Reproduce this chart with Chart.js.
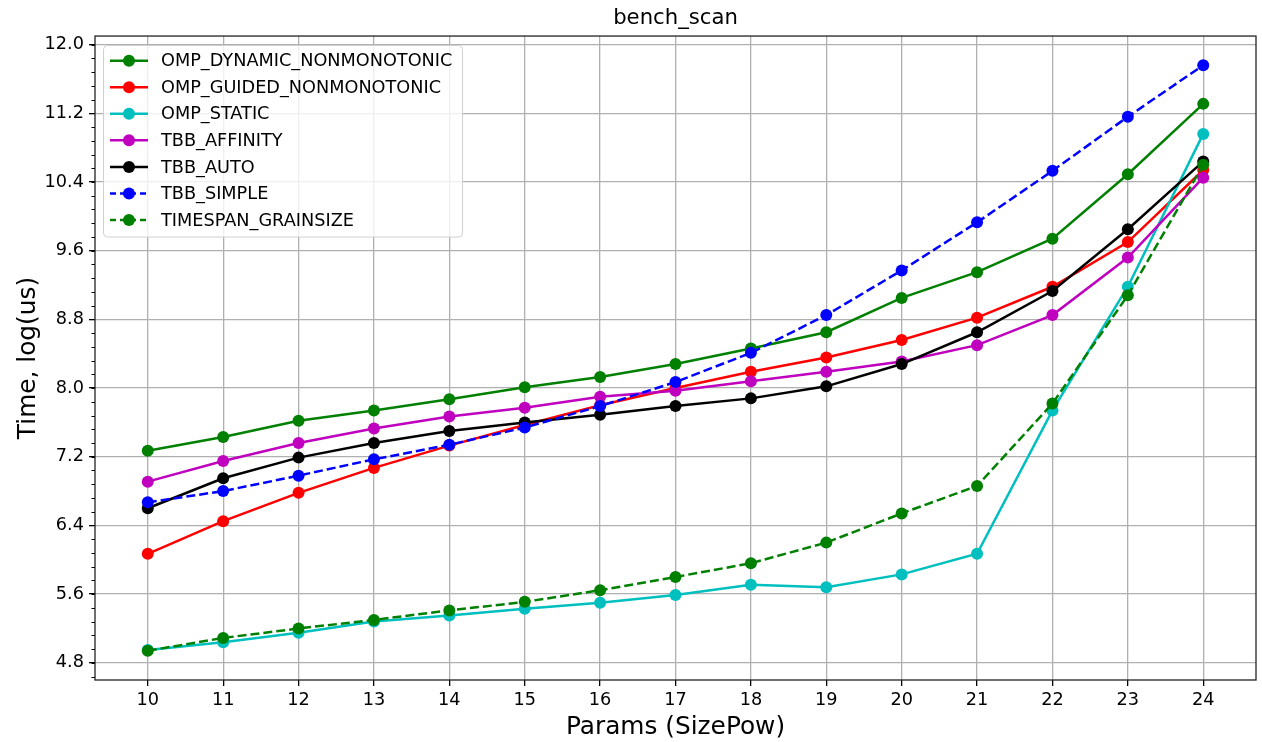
<!DOCTYPE html>
<html>
<head>
<meta charset="utf-8">
<script src="https://cdn.jsdelivr.net/npm/chart.js@4.4.0/dist/chart.umd.min.js"></script>
<style>
  html, body { margin: 0; padding: 0; background: #fff; }
  #wrap { width: 1262px; height: 742px; position: relative; }
</style>
</head>
<body>
<div id="wrap"><canvas id="chart"></canvas></div>
<script>
// values (log of microseconds)
var params = [10, 11, 12, 13, 14, 15, 16, 17, 18, 19, 20, 21, 22, 23, 24];
var ompDynamic  = [7.27, 7.43, 7.62, 7.74, 7.87, 8.01, 8.13, 8.28, 8.46, 8.65, 9.05, 9.35, 9.74, 10.49, 11.31];
var ompGuided   = [6.07, 6.45, 6.78, 7.07, 7.33, 7.57, 7.80, 8.00, 8.19, 8.355, 8.56, 8.82, 9.18, 9.70, 10.54];
var ompStatic   = [4.95, 5.04, 5.15, 5.28, 5.35, 5.43, 5.50, 5.59, 5.71, 5.68, 5.83, 6.07, 7.74, 9.18, 10.96];
var tbbAffinity = [6.91, 7.15, 7.36, 7.53, 7.67, 7.77, 7.90, 7.97, 8.08, 8.19, 8.31, 8.50, 8.85, 9.52, 10.45];
var tbbAuto     = [6.60, 6.95, 7.19, 7.36, 7.50, 7.60, 7.69, 7.79, 7.88, 8.02, 8.28, 8.65, 9.13, 9.85, 10.64];
var tbbSimple   = [6.67, 6.80, 6.98, 7.17, 7.34, 7.54, 7.79, 8.07, 8.41, 8.85, 9.37, 9.93, 10.53, 11.16, 11.76];
var timespan    = [4.94, 5.09, 5.20, 5.30, 5.41, 5.51, 5.645, 5.80, 5.96, 6.20, 6.54, 6.86, 7.82, 9.08, 10.60];

var seriesNames = ["OMP_DYNAMIC_NONMONOTONIC", "OMP_GUIDED_NONMONOTONIC", "OMP_STATIC",
  "TBB_AFFINITY", "TBB_AUTO", "TBB_SIMPLE", "TIMESPAN_GRAINSIZE"];
var seriesValues = [ompDynamic, ompGuided, ompStatic, tbbAffinity, tbbAuto, tbbSimple, timespan];
var seriesColors = ["#008000", "#ff0000", "#00bfbf", "#bf00bf", "#000000", "#0000ff", "#008000"];
var seriesDashed = [false, false, false, false, false, true, true];

var xTicks = [10, 11, 12, 13, 14, 15, 16, 17, 18, 19, 20, 21, 22, 23, 24];
var yTicks = [4.8, 5.6, 6.4, 7.2, 8.0, 8.8, 9.6, 10.4, 11.2, 12.0];

var FONT = "'DejaVu Sans', sans-serif";
var DASH = [9, 4];

var datasets = [];
for (var i = 0; i < seriesNames.length; i++) {
  var pts = [];
  for (var j = 0; j < params.length; j++) {
    pts.push({x: params[j], y: seriesValues[i][j]});
  }
  datasets.push({
    label: seriesNames[i],
    data: pts,
    borderColor: seriesColors[i],
    backgroundColor: seriesColors[i],
    pointBackgroundColor: seriesColors[i],
    pointBorderColor: seriesColors[i],
    borderWidth: 2.5,
    pointRadius: 6,
    pointBorderWidth: 0,
    pointHoverRadius: 6,
    borderDash: seriesDashed[i] ? DASH : [],
    tension: 0,
    fill: false,
    order: seriesNames.length - i
  });
}

// frame, minor y ticks and the boxed legend inside the plot
var framePlugin = {
  id: 'frame',
  afterDraw: function(chart) {
    var ctx = chart.ctx, a = chart.chartArea, ys = chart.scales.y;
    ctx.save();
    // minor ticks
    ctx.strokeStyle = '#000';
    ctx.lineWidth = 1;
    for (var v = 4.64; v < ys.max; v += 0.16) {
      var yy = Math.round(ys.getPixelForValue(v)) + 0.5;
      ctx.beginPath();
      ctx.moveTo(a.left - 3.5, yy);
      ctx.lineTo(a.left, yy);
      ctx.stroke();
    }
    ctx.lineWidth = 1.3;
    ctx.strokeStyle = '#222';
    ctx.strokeRect(a.left, a.top, a.right - a.left, a.bottom - a.top);

    // legend
    var bx = 103.5, by = 45.5, bw = 359, bh = 191.5;
    ctx.beginPath();
    ctx.roundRect(bx, by, bw, bh, 4);
    ctx.fillStyle = 'rgba(255,255,255,0.8)';
    ctx.fill();
    ctx.strokeStyle = '#d0d0d0';
    ctx.lineWidth = 1;
    ctx.stroke();
    ctx.font = '17.7px ' + FONT;
    ctx.textBaseline = 'middle';
    chart.data.datasets.forEach(function(ds, k) {
      var cy = 60.7 + k * 26.55;
      ctx.strokeStyle = ds.borderColor;
      ctx.lineWidth = 2.5;
      ctx.setLineDash(ds.borderDash.length ? [6, 4] : []);
      ctx.beginPath();
      ctx.moveTo(110, cy);
      ctx.lineTo(148, cy);
      ctx.stroke();
      ctx.setLineDash([]);
      ctx.fillStyle = ds.borderColor;
      ctx.beginPath();
      ctx.arc(129, cy, 6, 0, Math.PI * 2);
      ctx.fill();
      ctx.fillStyle = '#000';
      ctx.fillText(ds.label, 161, cy + 1);
    });
    ctx.restore();
  }
};

new Chart(document.getElementById('chart'), {
  type: 'line',
  data: { datasets: datasets },
  plugins: [framePlugin],
  options: {
    responsive: true,
    maintainAspectRatio: false,
    animation: false,
    layout: { padding: { left: 0, right: 6, top: 0, bottom: 0 } },
    plugins: {
      legend: { display: false },
      tooltip: { enabled: false },
      title: {
        display: true,
        text: 'bench_scan',
        fullSize: false,
        color: '#000',
        font: { family: FONT, size: 21.2, weight: 'normal', lineHeight: 1.2 },
        padding: { top: 6, bottom: 4.6 }
      }
    },
    scales: {
      x: {
        type: 'linear',
        min: 9.3,
        max: 24.7,
        afterBuildTicks: function(scale) {
          scale.ticks = xTicks.map(function(v) { return {value: v}; });
        },
        afterFit: function(scale) { scale.height = 62; },
        grid: { color: '#b0b0b0', lineWidth: 1.3, tickLength: 6, tickColor: '#000', tickWidth: 1.3 },
        border: { display: false },
        ticks: {
          color: '#000',
          padding: 4,
          maxRotation: 0,
          autoSkip: false,
          font: { family: FONT, size: 17.7 },
          callback: function(v) { return String(v); }
        },
        title: {
          display: true,
          text: 'Params (SizePow)',
          color: '#000',
          font: { family: FONT, size: 24.8, lineHeight: 1.2 },
          padding: { top: 4, bottom: 0 }
        }
      },
      y: {
        type: 'linear',
        min: 4.6,
        max: 12.1,
        afterBuildTicks: function(scale) {
          scale.ticks = yTicks.map(function(v) { return {value: v}; });
        },
        afterFit: function(scale) { scale.width = 95; },
        grid: { color: '#b0b0b0', lineWidth: 1.3, tickLength: 6, tickColor: '#000', tickWidth: 1.3 },
        border: { display: false },
        ticks: {
          color: '#000',
          padding: 5,
          autoSkip: false,
          font: { family: FONT, size: 17.7 },
          callback: function(v) { return v.toFixed(1); }
        },
        title: {
          display: true,
          text: 'Time, log(us)',
          color: '#000',
          font: { family: FONT, size: 24.8, lineHeight: 1.2 },
          padding: { top: 14, bottom: 0 }
        }
      }
    }
  }
});
</script>
</body>
</html>
